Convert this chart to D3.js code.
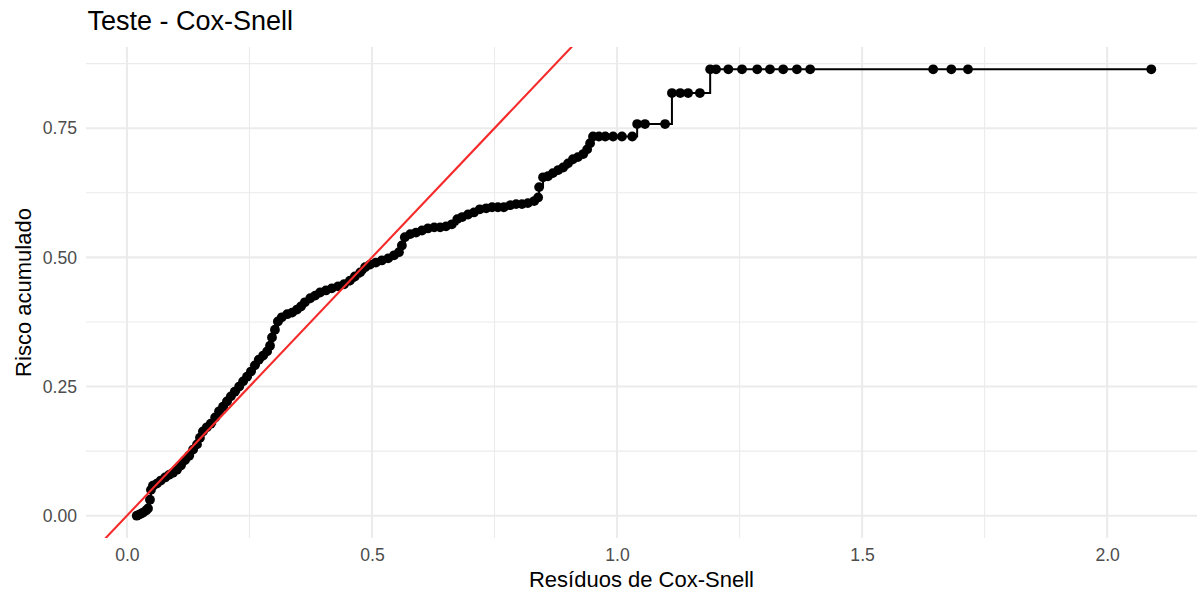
<!DOCTYPE html>
<html>
<head>
<meta charset="utf-8">
<script src="https://cdn.jsdelivr.net/npm/d3@7"></script>
<style>
  body { margin: 0; background: #fff; }
  text { font-family: "Liberation Sans", Arial, sans-serif; }
</style>
</head>
<body>
<script>
let w = 1202;
let h = 591;

// Cox-Snell residuals and cumulative hazard
let resid = [
  0.020, 0.025, 0.029, 0.033, 0.039, 0.043, 0.047, 0.049, 0.053, 0.061,
  0.069, 0.078, 0.086, 0.094, 0.102, 0.110, 0.118, 0.127, 0.135, 0.143,
  0.149, 0.155, 0.163, 0.171, 0.180, 0.188, 0.196, 0.204, 0.212, 0.220,
  0.229, 0.237, 0.245, 0.253, 0.261, 0.269, 0.278, 0.286, 0.292, 0.296,
  0.302, 0.308, 0.316, 0.327, 0.337, 0.347, 0.355, 0.363, 0.374, 0.384,
  0.394, 0.406, 0.418, 0.431, 0.443, 0.455, 0.465, 0.476, 0.486, 0.496,
  0.508, 0.520, 0.533, 0.545, 0.555, 0.561, 0.567, 0.578, 0.590, 0.602,
  0.614, 0.627, 0.639, 0.651, 0.663, 0.674, 0.684, 0.696, 0.708, 0.720,
  0.733, 0.745, 0.757, 0.769, 0.782, 0.794, 0.806, 0.818, 0.831, 0.839,
  0.841, 0.849, 0.859, 0.869, 0.880, 0.890, 0.900, 0.910, 0.920, 0.931,
  0.939, 0.945, 0.951, 0.963, 0.976, 0.992, 1.010, 1.031, 1.041, 1.057,
  1.098, 1.112, 1.129, 1.145, 1.169, 1.190, 1.202, 1.227, 1.255, 1.286,
  1.312, 1.339, 1.367, 1.394, 1.645, 1.682, 1.716, 2.090
];
let cumHaz = [
  0.000, 0.002, 0.004, 0.006, 0.010, 0.014, 0.031, 0.050, 0.058, 0.062,
  0.068, 0.074, 0.079, 0.083, 0.089, 0.097, 0.107, 0.116, 0.128, 0.138,
  0.151, 0.163, 0.171, 0.178, 0.190, 0.202, 0.211, 0.221, 0.231, 0.240,
  0.250, 0.260, 0.269, 0.279, 0.291, 0.302, 0.310, 0.318, 0.329, 0.345,
  0.360, 0.376, 0.384, 0.390, 0.393, 0.399, 0.405, 0.413, 0.421, 0.426,
  0.432, 0.436, 0.440, 0.444, 0.448, 0.455, 0.463, 0.471, 0.481, 0.486,
  0.490, 0.494, 0.498, 0.504, 0.510, 0.523, 0.539, 0.545, 0.548, 0.552,
  0.556, 0.558, 0.558, 0.560, 0.564, 0.574, 0.578, 0.583, 0.587, 0.593,
  0.595, 0.597, 0.597, 0.597, 0.601, 0.603, 0.603, 0.605, 0.609, 0.616,
  0.636, 0.655, 0.657, 0.663, 0.669, 0.674, 0.682, 0.690, 0.694, 0.700,
  0.709, 0.721, 0.734, 0.734, 0.734, 0.734, 0.734, 0.734, 0.758, 0.758,
  0.758, 0.818, 0.818, 0.818, 0.818, 0.864, 0.864, 0.864, 0.864, 0.864,
  0.864, 0.864, 0.864, 0.864, 0.864, 0.864, 0.864, 0.864
];

let xTicks = [0, 0.5, 1, 1.5, 2];
let xMinor = [0.25, 0.75, 1.25, 1.75];
let yTicks = [0, 0.25, 0.5, 0.75];
let yMinor = [0.125, 0.375, 0.625, 0.875];

let vals = resid.map((d, i) => ({ x: d, y: cumHaz[i] }));

let pLeft = 86, pRight = 1202, pTop = 47, pBottom = 538;
let gridRight = 1197;

let svg = d3.select("body").append("svg").attr("width", w).attr("height", h);

// ggplot-like 5% expansion
let xr = d3.extent(resid);
let xpad = (xr[1] - xr[0]) * 0.05;
let yr = d3.extent(cumHaz);
let ypad = (yr[1] - yr[0]) * 0.05;

let xScale = d3.scaleLinear().domain([xr[0] - xpad, xr[1] + xpad]).range([pLeft, pRight]);
let yScale = d3.scaleLinear().domain([yr[0] - ypad, yr[1] + ypad]).range([pBottom, pTop]);

// grid
let grid = svg.append("g");
grid.selectAll(".ymin").data(yMinor).enter().append("line")
  .attr("x1", pLeft).attr("x2", gridRight)
  .attr("y1", (d) => yScale(d)).attr("y2", (d) => yScale(d))
  .attr("stroke", "#ebebeb").attr("stroke-width", 1.1);
grid.selectAll(".xmin").data(xMinor).enter().append("line")
  .attr("y1", pTop).attr("y2", pBottom)
  .attr("x1", (d) => xScale(d)).attr("x2", (d) => xScale(d))
  .attr("stroke", "#ebebeb").attr("stroke-width", 1.1);
grid.selectAll(".ymaj").data(yTicks).enter().append("line")
  .attr("x1", pLeft).attr("x2", gridRight)
  .attr("y1", (d) => yScale(d)).attr("y2", (d) => yScale(d))
  .attr("stroke", "#ebebeb").attr("stroke-width", 2.1);
grid.selectAll(".xmaj").data(xTicks).enter().append("line")
  .attr("y1", pTop).attr("y2", pBottom)
  .attr("x1", (d) => xScale(d)).attr("x2", (d) => xScale(d))
  .attr("stroke", "#ebebeb").attr("stroke-width", 2.1);

svg.append("clipPath").attr("id", "panel")
  .append("rect").attr("x", pLeft).attr("y", pTop)
  .attr("width", pRight - pLeft).attr("height", pBottom - pTop);

let plot = svg.append("g").attr("clip-path", "url(#panel)");

// step line
let stepLine = d3.line()
  .x((d) => xScale(d.x))
  .y((d) => yScale(d.y))
  .curve(d3.curveStepAfter);

plot.append("path")
  .datum(vals)
  .attr("d", stepLine)
  .attr("fill", "none")
  .attr("stroke", "black")
  .attr("stroke-width", 2);

plot.selectAll("circle")
  .data(vals)
  .enter()
  .append("circle")
  .attr("r", 4.9)
  .attr("cx", (d) => xScale(d.x))
  .attr("cy", (d) => yScale(d.y))
  .attr("fill", "black");

// reference line y = x
let xd = xScale.domain();
plot.append("line")
  .attr("x1", xScale(xd[0])).attr("y1", yScale(xd[0]))
  .attr("x2", xScale(xd[1])).attr("y2", yScale(xd[1]))
  .attr("stroke", "#f52a2a")
  .attr("stroke-width", 2.1);

// axes
let x_axis = d3.axisBottom(xScale).tickValues(xTicks).tickSize(0).tickPadding(10.5)
  .tickFormat(d3.format(".1f"));
let y_axis = d3.axisLeft(yScale).tickValues(yTicks).tickSize(0).tickPadding(9)
  .tickFormat(d3.format(".2f"));

let gx = svg.append("g").attr("transform", "translate(0," + pBottom + ")").call(x_axis);
let gy = svg.append("g").attr("transform", "translate(" + pLeft + ",0)").call(y_axis);
[gx, gy].forEach((g) => {
  g.select(".domain").remove();
  g.selectAll("text")
    .style("font-family", "'Liberation Sans', Arial, sans-serif")
    .style("font-size", "17.6px")
    .attr("fill", "#4d4d4d");
});

svg.append("text")
  .attr("x", (pLeft + gridRight) / 2)
  .attr("y", 587)
  .attr("text-anchor", "middle")
  .style("font-size", "22px")
  .text("Resíduos de Cox-Snell");

svg.append("text")
  .attr("transform", "translate(31," + (pTop + pBottom) / 2 + ") rotate(-90)")
  .attr("text-anchor", "middle")
  .style("font-size", "22px")
  .text("Risco acumulado");

svg.append("text")
  .attr("x", pLeft + 1.5)
  .attr("y", 30)
  .style("font-size", "27px")
  .text("Teste - Cox-Snell");
</script>
</body>
</html>
